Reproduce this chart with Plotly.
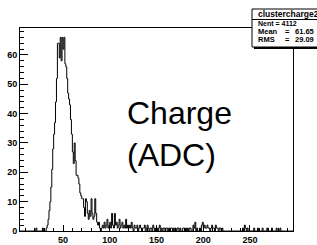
import plotly.graph_objects as go

# ---- data (counts per 1-ADC bin, starting at 0) ----
bin_start = 0
bin_width = 1
counts = (
    [0] * 20 +
    [0, 1, 0, 0, 0, 0, 0, 0, 1, 0] +          # 20-29
    [0, 0, 1, 2, 4, 7, 10, 15, 21, 28] +      # 30-39
    [33, 37, 44, 52, 64, 64, 59, 66, 58, 66] +  # 40-49
    [62, 66, 57, 56, 52, 47, 45, 43, 38, 33] +  # 50-59
    [27, 23, 30, 24, 19, 19, 18, 16, 13, 12] +  # 60-69
    [11, 11, 8, 5, 11, 10, 6, 4, 7, 5] +      # 70-79
    [11, 6, 4, 5, 11, 6, 3, 2, 3, 1] +        # 80-89
    [0, 1, 2, 1, 3, 1, 2, 4, 1, 2] +          # 90-99
    [3, 1, 6, 2, 1, 6, 2, 3, 1, 2] +          # 100-109
    [4, 1, 2, 3, 1, 2, 1, 4, 1, 2] +          # 110-119
    [1, 2, 1, 3, 1, 0, 2, 1, 1, 2] +          # 120-129
    [0, 1, 2, 1, 0, 1, 1, 2, 0, 1] +          # 130-139
    [2, 1, 0, 1, 1, 0, 2, 1, 0, 1] +          # 140-149
    [1, 0, 1, 2, 0, 1, 0, 1, 1, 0] +          # 150-159
    [1, 1, 0, 1, 0, 1, 1, 0, 1, 0] +          # 160-169
    [1, 0, 1, 1, 0, 1, 0, 0, 1, 1] +          # 170-179
    [0, 1, 0, 1, 0, 1, 1, 0, 0, 2] +          # 180-189
    [1, 3, 0, 1, 0, 0, 1, 0, 2, 3] +          # 190-199
    [1, 2, 1, 1, 2, 1, 1, 0, 1, 2] +          # 200-209
    [1, 1, 0, 2, 1, 1, 0, 1, 1, 0] +          # 210-219
    [1, 0, 0, 0, 0, 0, 0, 0, 0, 0] +          # 220-229
    [0] * 10 +                                # 230-239
    [0, 0, 1, 0, 2, 1, 0, 1, 0, 0] +          # 240-249
    [0, 0, 0, 0, 1, 0, 0, 0, 1, 0] +          # 250-259
    [0, 0, 0, 1, 0, 0, 0, 0, 1, 0] +          # 260-269
    [0, 0, 0, 1, 0, 0, 0, 0, 1, 0] +          # 270-279
    [0, 0, 1, 0, 0, 0, 0, 0, 0, 0] +          # 280-289
    [0] * 10                                  # 290-299
)

x_range = [4, 296]
y_range = [0, 69.2]
x_tick_step = 50
y_tick_step = 10

stats_title = "clustercharge2"
stats_nent = "Nent = 4112"
stats_names = ["Mean", "RMS"]
stats_values = ["61.65", "29.09"]
big_label = "Charge<br>(ADC)"

# ---- build step outline ----
edges = [bin_start + i * bin_width for i in range(len(counts) + 1)]
ys = list(counts) + [counts[-1]]

W, H = 317, 245
L, R, T, B = 20, 24, 28, 14
pw, ph = W - L - R, H - T - B


def px_x(p):
    return (p - L) / pw


def px_y(p):
    return (H - B - p) / ph


fig = go.Figure()
fig.add_trace(go.Scatter(x=edges, y=ys, mode="lines", line_shape="hv",
                         line=dict(color="black", width=1), hoverinfo="skip"))

tickfont = dict(family="Liberation Sans", size=9, color="black", weight="bold")
fig.update_layout(
    width=W, height=H, margin=dict(l=L, r=R, t=T, b=B, autoexpand=False),
    paper_bgcolor="white", plot_bgcolor="white", showlegend=False,
    xaxis=dict(range=x_range, tick0=0, dtick=x_tick_step, ticks="inside", ticklen=6,
               tickcolor="black", showline=True, linecolor="black", linewidth=1,
               mirror=True, showgrid=False, zeroline=False, tickfont=tickfont,
               automargin=False,
               minor=dict(dtick=10, ticks="inside", ticklen=3, tickcolor="black", showgrid=False)),
    yaxis=dict(range=y_range, tick0=0, dtick=y_tick_step, ticks="inside", ticklen=8,
               tickcolor="black", showline=True, linecolor="black", linewidth=1,
               mirror=True, showgrid=False, zeroline=False, tickfont=tickfont,
               automargin=False,
               minor=dict(dtick=2, ticks="inside", ticklen=4, tickcolor="black", showgrid=False)),
)

# stats box
fig.add_shape(type="rect", xref="paper", yref="paper",
              x0=px_x(254), x1=px_x(320), y0=px_y(49), y1=px_y(11),
              fillcolor="black", line=dict(width=0), layer="above")
fig.add_shape(type="rect", xref="paper", yref="paper",
              x0=px_x(252), x1=px_x(319), y0=px_y(47), y1=px_y(9),
              fillcolor="white", line=dict(color="black", width=1), layer="above")
fig.add_shape(type="line", xref="paper", yref="paper",
              x0=px_x(252), x1=px_x(319), y0=px_y(19.5), y1=px_y(19.5),
              line=dict(color="black", width=1), layer="above")

sfont = dict(family="Liberation Sans", size=7.5, color="black", weight="bold")
fig.add_annotation(text=stats_title, xref="paper", yref="paper", x=px_x(255.5), y=px_y(14.5),
                   xanchor="left", yanchor="middle", showarrow=False,
                   font=dict(family="Liberation Sans", size=8.5, color="black", weight="bold"))
fig.add_annotation(text=stats_nent, xref="paper", yref="paper", x=px_x(255.5), y=px_y(23.3),
                   xanchor="left", yanchor="middle", showarrow=False,
                   font=dict(family="Liberation Sans", size=7, color="black", weight="bold"))
for i, (n, v) in enumerate(zip(stats_names, stats_values)):
    yy = px_y(31.3 + 8 * i)
    fig.add_annotation(text=n, xref="paper", yref="paper", x=px_x(255.5), y=yy,
                       xanchor="left", yanchor="middle", showarrow=False, font=sfont)
    fig.add_annotation(text="=", xref="paper", yref="paper", x=px_x(287.5), y=yy,
                       xanchor="center", yanchor="middle", showarrow=False, font=sfont)
    fig.add_annotation(text=v, xref="paper", yref="paper", x=px_x(316), y=yy,
                       xanchor="right", yanchor="middle", showarrow=False, font=sfont)

fig.add_annotation(text=big_label, xref="paper", yref="paper", x=px_x(125), y=px_y(134),
                   xanchor="left", yanchor="middle", align="left", showarrow=False,
                   font=dict(family="Liberation Sans", size=32, color="black"))

fig.write_html("out.html", config={"displayModeBar": False},
               post_script="document.body.style.margin='0';document.body.style.overflow='hidden';")
